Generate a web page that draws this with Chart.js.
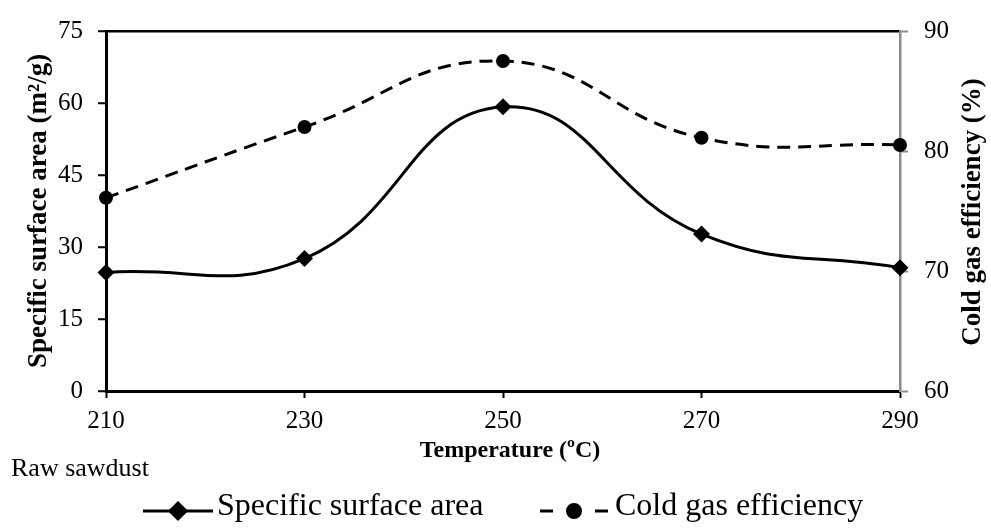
<!DOCTYPE html>
<html>
<head>
<meta charset="utf-8">
<script src="https://cdn.jsdelivr.net/npm/chart.js@4.4.1/dist/chart.umd.min.js"></script>
<style>
  html, body { margin: 0; padding: 0; background: #fff; }
  #wrap { width: 991px; height: 528px; }
</style>
</head>
<body>
<div id="wrap"><canvas id="chart" width="991" height="528"></canvas></div>
<script>
// data
const temperatures = ['210', '230', '250', '270', '290'];
const surfaceArea = [24.7, 27.6, 59.2, 32.7, 25.7];
const gasEfficiency = [76.1, 82.0, 87.5, 81.1, 80.5];
const leftTicks = [0, 15, 30, 45, 60, 75];
const rightTicks = [60, 70, 80, 90];

const FONT = '"Liberation Serif", "Times New Roman", serif';

// titles, extra label and legend drawn by hand
const annotations = {
  id: 'annotations',
  afterDraw(chart) {
    const ctx = chart.ctx;
    const area = chart.chartArea;
    const midY = (area.top + area.bottom) / 2;
    ctx.save();
    ctx.fillStyle = '#000';
    ctx.textBaseline = 'alphabetic';

    // axis titles
    ctx.font = 'bold 27px ' + FONT;
    ctx.textAlign = 'center';
    ctx.save();
    ctx.translate(46, midY);
    ctx.rotate(-Math.PI / 2);
    ctx.fillText('Specific surface area (m²/g)', 0, 0);
    ctx.restore();

    ctx.save();
    ctx.translate(980, midY + 1);
    ctx.rotate(-Math.PI / 2);
    ctx.fillText('Cold gas efficiency (%)', 0, 0);
    ctx.restore();

    ctx.font = 'bold 24px ' + FONT;
    ctx.fillText('Temperature (ºC)', 510, 457);

    ctx.font = '26px ' + FONT;
    ctx.textAlign = 'left';
    ctx.fillText('Raw sawdust', 11, 476);

    // legend
    const items = [
      { ds: chart.data.datasets[0], x1: 143, x2: 213, dash: [], text: 217 },
      { ds: chart.data.datasets[1], x1: 540, x2: 608, dash: [13, 42], text: 615 }
    ];
    const ly = 511;
    items.forEach(it => {
      ctx.strokeStyle = it.ds.borderColor;
      ctx.lineWidth = it.ds.borderWidth;
      ctx.setLineDash(it.dash);
      ctx.beginPath();
      ctx.moveTo(it.x1, ly);
      ctx.lineTo(it.x2, ly);
      ctx.stroke();
      ctx.setLineDash([]);
      Chart.helpers.drawPoint(ctx, {
        pointStyle: it.ds.pointStyle,
        radius: it.ds.pointRadius - 0.5,
        borderWidth: 1
      }, (it.x1 + it.x2) / 2, ly);
      ctx.fillStyle = '#000';
      ctx.fill();
      ctx.font = '32px ' + FONT;
      ctx.fillText(it.ds.label, it.text, 515);
    });
    ctx.restore();
  }
};

const ctx = document.getElementById('chart').getContext('2d');
new Chart(ctx, {
  type: 'line',
  data: {
    labels: temperatures,
    datasets: [
      {
        label: 'Specific surface area',
        data: surfaceArea,
        yAxisID: 'y',
        borderColor: '#000',
        backgroundColor: '#000',
        borderWidth: 3,
        tension: 0.45,
        pointStyle: 'rectRot',
        pointRadius: 8.5,
        pointBorderWidth: 0,
        clip: false
      },
      {
        label: 'Cold gas efficiency',
        data: gasEfficiency,
        yAxisID: 'y2',
        borderColor: '#000',
        backgroundColor: '#000',
        borderWidth: 3,
        borderDash: [13, 8],
        tension: 0.45,
        pointStyle: 'circle',
        pointRadius: 7,
        pointBorderWidth: 0,
        clip: false
      }
    ]
  },
  options: {
    responsive: false,
    animation: false,
    layout: { padding: { top: 24, left: 0, right: 0, bottom: 0 } },
    plugins: {
      legend: { display: false },
      tooltip: { enabled: false }
    },
    scales: {
      x: {
        offset: false,
        border: { display: true, color: '#000', width: 3 },
        grid: { display: true, drawOnChartArea: false, drawTicks: true, tickLength: 7, tickColor: '#000', tickWidth: 2 },
        ticks: { color: '#000', font: { family: FONT, size: 25 }, padding: 8, maxRotation: 0 },
        afterFit: s => { s.height = 137; }
      },
      y: {
        position: 'left',
        min: leftTicks[0],
        max: leftTicks[leftTicks.length - 1],
        border: { display: true, color: '#000', width: 3 },
        grid: {
          drawOnChartArea: true,
          color: c => (c.tick && c.tick.value === leftTicks[leftTicks.length - 1]) ? '#000' : 'rgba(0,0,0,0)',
          lineWidth: 2.5,
          tickLength: 8,
          tickColor: '#000',
          tickWidth: 2
        },
        ticks: { stepSize: leftTicks[1] - leftTicks[0], color: '#000', font: { family: FONT, size: 25 }, padding: 15 },
        afterFit: s => { s.width = 106; }
      },
      y2: {
        position: 'right',
        min: rightTicks[0],
        max: rightTicks[rightTicks.length - 1],
        border: { display: true, color: '#8c8c8c', width: 2.5 },
        grid: { drawOnChartArea: false, tickLength: 8, tickColor: '#8c8c8c', tickWidth: 2 },
        ticks: { stepSize: rightTicks[1] - rightTicks[0], color: '#000', font: { family: FONT, size: 25 }, padding: 16 },
        afterFit: s => { s.width = 91; }
      }
    }
  },
  plugins: [annotations]
});
</script>
</body>
</html>
